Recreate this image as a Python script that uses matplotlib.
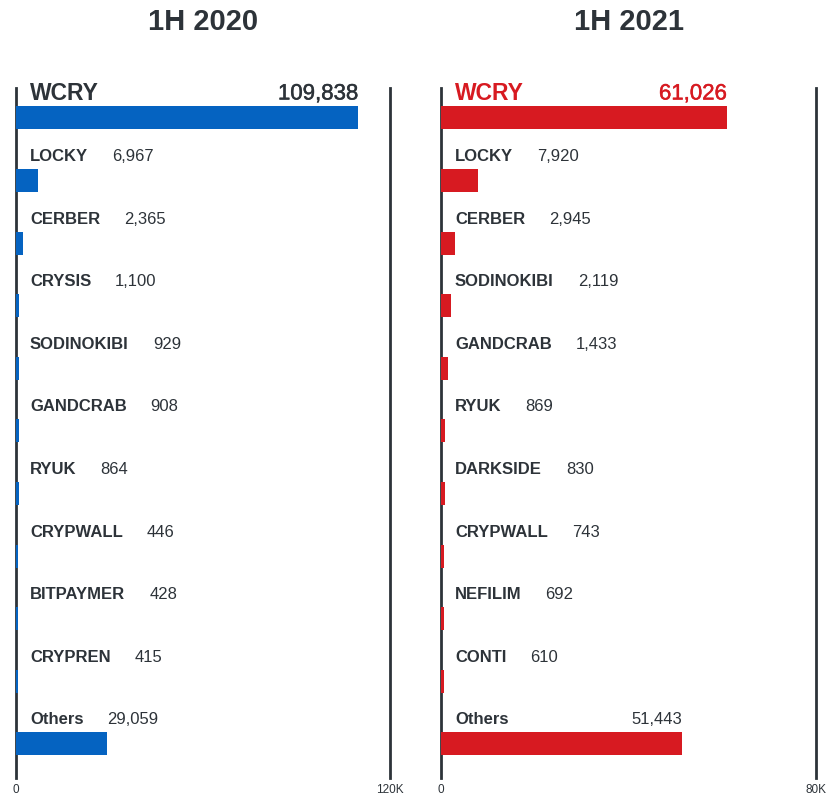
import matplotlib
matplotlib.use("Agg")
import matplotlib.pyplot as plt
import matplotlib.patheffects as pe
from matplotlib.transforms import offset_copy

# дані
names_2020 = ["WCRY", "LOCKY", "CERBER", "CRYSIS", "SODINOKIBI", "GANDCRAB",
              "RYUK", "CRYPWALL", "BITPAYMER", "CRYPREN", "Others"]
values_2020 = [109838, 6967, 2365, 1100, 929, 908, 864, 446, 428, 415, 29059]

names_2021 = ["WCRY", "LOCKY", "CERBER", "SODINOKIBI", "GANDCRAB", "RYUK",
              "DARKSIDE", "CRYPWALL", "NEFILIM", "CONTI", "Others"]
values_2021 = [61026, 7920, 2945, 2119, 1433, 869, 830, 743, 692, 610, 51443]

titles = ["1H 2020", "1H 2021"]
xmax = [120000, 80000]
xmax_labels = ["120K", "80K"]

BLUE = "#0563C1"
RED = "#D71A21"
DARK = "#2D3339"

plt.rcParams['font.family'] = ['Liberation Sans', 'DejaVu Sans']

W, H = 826, 796
fig = plt.figure(figsize=(W / 100, H / 100), dpi=100)

panels = [(16, 390), (441, 816)]
top_px, bot_px = 88, 778
row0, step = 118, 62.6

axes = []
for k, (x0, x1) in enumerate(panels):
    ax = fig.add_axes([x0 / W, (H - bot_px) / H, (x1 - x0) / W, (bot_px - top_px) / H])
    axes.append(ax)

def draw_panel(ax, names, values, color, first_color, vmax, vmax_label, title, x0, x1):
    n = len(names)
    ypos = list(range(n))
    # мінімальна видима ширина, щоб тонкі смуги не зникали під лінією
    shown = [max(v, vmax * 2.2 / (x1 - x0)) for v in values]
    ax.barh(ypos, shown, height=23 / step, color=color, left=0, zorder=3)
    ax.set_xlim(0, vmax)
    ax.set_ylim((bot_px - row0) / step, (top_px - row0) / step)
    for s in ["top", "bottom"]:
        ax.spines[s].set_visible(False)
    for s in ["left", "right"]:
        ax.spines[s].set_color(DARK)
        ax.spines[s].set_linewidth(2)
    ax.set_yticks([])
    ax.set_xticks([0, vmax])
    ax.set_xticklabels(["0", vmax_label], fontsize=8.5, color=DARK)
    ax.tick_params(axis='x', length=0, pad=4)
    ax.patch.set_alpha(0)

    fig.text((x0 + x1) / 2 / W, 1 - 22 / H, title, ha='center', va='center',
             fontsize=21, fontweight='bold', color=DARK)

    renderer = fig.canvas.get_renderer()
    lab_tr = offset_copy(ax.transData, fig=fig, x=14, y=0, units='dots')
    label_off = 24 / step
    for i, (name, v) in enumerate(zip(names, values)):
        big = i == 0
        tcol = first_color if big else DARK
        fs = 16.5 if big else 12
        vfs = 16 if big else 12
        # трохи жирніше для великих чисел (medium)
        fx = [pe.withStroke(linewidth=0.35, foreground=tcol)] if big else []
        lab = ax.text(0, i - label_off, name, transform=lab_tr, ha='left', va='center',
                      fontsize=fs, fontweight='bold', color=tcol)
        vtxt = f"{v:,}"
        vt = ax.text(0, 0, vtxt, fontsize=vfs, color=tcol, va='center')
        lab_ext = lab.get_window_extent(renderer)
        val_w = vt.get_window_extent(renderer).width
        vt.remove()
        bar_end = ax.transData.transform((v, 0))[0]
        _, yd = ax.transData.transform((0, i - label_off))
        inv = ax.transData.inverted()
        if bar_end - lab_ext.x1 > val_w + 25:
            xd = inv.transform((bar_end, yd))[0]
            ax.text(xd, i - label_off, vtxt, ha='right', va='center', fontsize=vfs,
                    color=tcol, path_effects=fx)
        else:
            xd = inv.transform((lab_ext.x1 + 24, yd))[0]
            ax.text(xd, i - label_off, vtxt, ha='left', va='center', fontsize=vfs,
                    color=tcol, path_effects=fx)

fig.canvas.draw()
draw_panel(axes[0], names_2020, values_2020, BLUE, DARK, xmax[0], xmax_labels[0],
           titles[0], *panels[0])
draw_panel(axes[1], names_2021, values_2021, RED, RED, xmax[1], xmax_labels[1],
           titles[1], *panels[1])

fig.savefig("out.png", dpi=100, facecolor="white")
